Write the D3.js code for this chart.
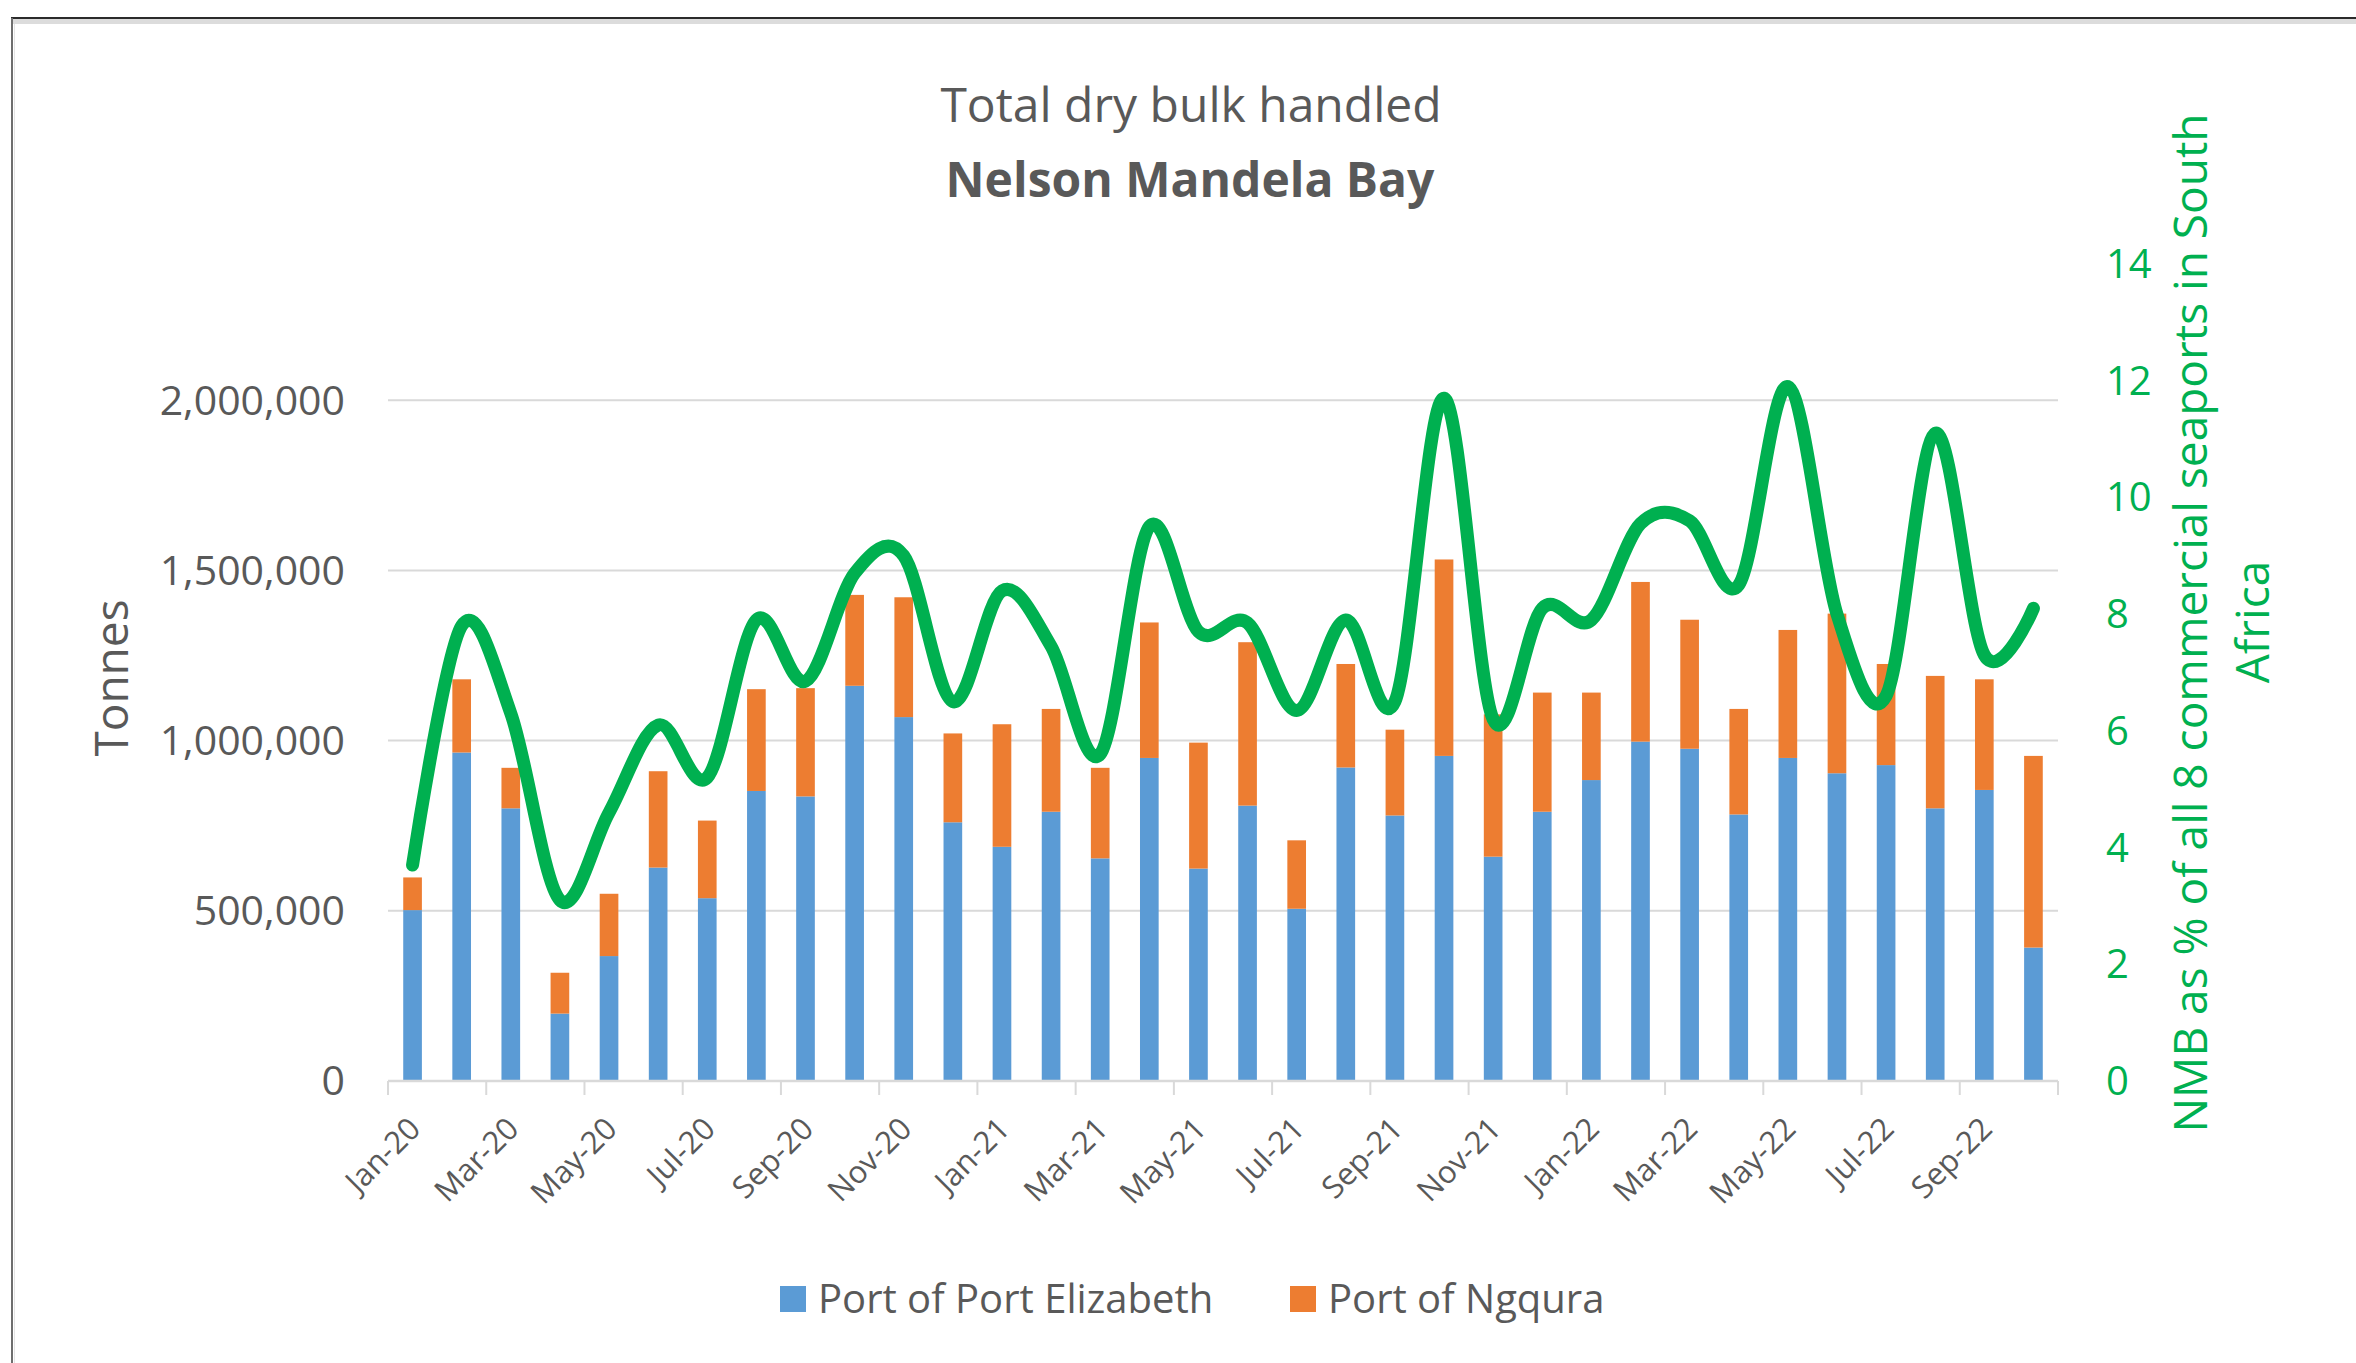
<!DOCTYPE html>
<html>
<head>
<meta charset="utf-8">
<script src="https://cdn.jsdelivr.net/npm/d3@7"></script>
<style>
  html, body { margin: 0; padding: 0; background: #ffffff; }
  svg { display: block; }
  text { font-family: "Open Sans", "Noto Sans", sans-serif; }
</style>
</head>
<body>
<svg id="chart" width="2356" height="1363"></svg>
<script>
// ---- Data ----
const months = ["Jan-20","Feb-20","Mar-20","Apr-20","May-20","Jun-20","Jul-20","Aug-20","Sep-20","Oct-20","Nov-20","Dec-20",
                "Jan-21","Feb-21","Mar-21","Apr-21","May-21","Jun-21","Jul-21","Aug-21","Sep-21","Oct-21","Nov-21","Dec-21",
                "Jan-22","Feb-22","Mar-22","Apr-22","May-22","Jun-22","Jul-22","Aug-22","Sep-22","Oct-22"];
const portElizabeth = [502000, 965000, 801000, 198000, 367000, 627000, 537000, 852000, 836000, 1161000, 1069000, 760000,
                       688000, 791000, 654000, 949000, 624000, 809000, 506000, 921000, 780000, 955000, 659000, 791000,
                       884000, 997000, 976000, 783000, 949000, 904000, 928000, 801000, 855000, 392000];
const ngqura = [96000, 215000, 119000, 120000, 183000, 283000, 228000, 299000, 318000, 267000, 352000, 261000,
                360000, 302000, 266000, 398000, 370000, 480000, 201000, 304000, 252000, 577000, 418000, 350000,
                257000, 469000, 379000, 310000, 376000, 469000, 297000, 389000, 325000, 563000];
const nmbShare = [3.7, 7.8, 6.3, 3.1, 4.6, 6.1, 5.2, 7.9, 6.85, 8.7, 9.0, 6.5,
                  8.4, 7.45, 5.6, 9.5, 7.7, 7.85, 6.35, 7.9, 6.5, 11.7, 6.2, 8.1,
                  7.9, 9.55, 9.6, 8.5, 11.9, 8.0, 6.6, 11.1, 7.3, 8.1];
const leftTicks = [0, 500000, 1000000, 1500000, 2000000];
const rightTicks = [0, 2, 4, 6, 8, 10, 12, 14];
const seriesNames = ["Port of Port Elizabeth", "Port of Ngqura"];
const titleLines = ["Total dry bulk handled", "Nelson Mandela Bay"];

// ---- Layout ----
const svg = d3.select("#chart");
const plot = { left: 388, right: 2058, top: 264, bottom: 1081 };
const colors = { pe: "#5B9BD5", ng: "#ED7D31", line: "#00B050", text: "#595959", grid: "#D9D9D9" };

// frame
svg.append("rect").attr("x", 0).attr("y", 0).attr("width", 2356).attr("height", 1363).attr("fill", "#fff");
svg.append("rect").attr("x", 12).attr("y", 19).attr("width", 2344).attr("height", 5).attr("fill", "#DCDCDC");
svg.append("line").attr("x1", 11).attr("x2", 2356).attr("y1", 18).attr("y2", 18).attr("stroke", "#2b2b2b").attr("stroke-width", 2);
svg.append("line").attr("x1", 12).attr("x2", 12).attr("y1", 18).attr("y2", 1363).attr("stroke", "#6e6e6e").attr("stroke-width", 2);
svg.append("line").attr("x1", 14.5).attr("x2", 14.5).attr("y1", 24).attr("y2", 1363).attr("stroke", "#e4e4e4").attr("stroke-width", 1);

// scales
const x = d3.scaleBand().domain(months).range([plot.left, plot.right]).paddingInner(0.62).paddingOuter(0.31);
const y = d3.scaleLinear().domain([0, 2400000]).range([plot.bottom, plot.top]);
const y2 = d3.scaleLinear().domain([0, 14]).range([plot.bottom, plot.top]);

// gridlines
svg.append("g").selectAll("line").data(leftTicks.filter(d => d > 0)).join("line")
  .attr("x1", plot.left).attr("x2", plot.right)
  .attr("y1", d => y(d)).attr("y2", d => y(d))
  .attr("stroke", colors.grid).attr("stroke-width", 2);

// stacked bars
const rows = months.map((m, i) => ({ month: m, pe: portElizabeth[i], ng: ngqura[i] }));
const stack = d3.stack().keys(["pe", "ng"])(rows);
svg.append("g").selectAll("g").data(stack).join("g")
  .attr("fill", d => colors[d.key])
  .selectAll("rect").data(d => d).join("rect")
  .attr("x", d => x(d.data.month))
  .attr("width", x.bandwidth())
  .attr("y", d => y(d[1]))
  .attr("height", d => y(d[0]) - y(d[1]));

// x axis line + ticks
svg.append("line").attr("x1", plot.left).attr("x2", plot.right).attr("y1", plot.bottom).attr("y2", plot.bottom)
  .attr("stroke", colors.grid).attr("stroke-width", 2.5);
const step = x.step();
const tickIdx = d3.range(0, months.length + 1, 2);
svg.append("g").selectAll("line").data(tickIdx).join("line")
  .attr("x1", i => plot.left + i * step).attr("x2", i => plot.left + i * step)
  .attr("y1", plot.bottom).attr("y2", plot.bottom + 14)
  .attr("stroke", colors.grid).attr("stroke-width", 2);

// x labels (every other month)
svg.append("g").selectAll("text").data(months.filter((m, i) => i % 2 === 0)).join("text")
  .attr("transform", d => `translate(${x(d) + x.bandwidth() / 2 + 2},${plot.bottom + 42}) rotate(-45)`)
  .attr("text-anchor", "end").attr("dy", "0.35em")
  .attr("font-size", 31).attr("fill", colors.text)
  .text(d => d);

// left axis labels
svg.append("g").selectAll("text").data(leftTicks).join("text")
  .attr("x", 345).attr("y", d => y(d)).attr("dy", "0.35em")
  .attr("text-anchor", "end").attr("font-size", 41).attr("fill", colors.text)
  .text(d => d3.format(",")(d));

// right axis labels
svg.append("g").selectAll("text").data(rightTicks).join("text")
  .attr("x", 2106).attr("y", d => y2(d)).attr("dy", "0.35em")
  .attr("text-anchor", "start").attr("font-size", 40).attr("fill", colors.line)
  .text(d => d);

// line
const line = d3.line()
  .x((d, i) => x(months[i]) + x.bandwidth() / 2)
  .y(d => y2(d))
  .curve(d3.curveCatmullRom.alpha(0));
svg.append("path").datum(nmbShare)
  .attr("d", line).attr("fill", "none")
  .attr("stroke", colors.line).attr("stroke-width", 13)
  .attr("stroke-linejoin", "round").attr("stroke-linecap", "round");

// title
svg.append("text").attr("x", 1191).attr("y", 122).attr("text-anchor", "middle")
  .attr("font-size", 48).attr("fill", colors.text).text(titleLines[0]);
svg.append("text").attr("x", 1190).attr("y", 197).attr("text-anchor", "middle")
  .attr("font-size", 48).attr("font-weight", "bold").attr("fill", colors.text).text(titleLines[1]);

// left axis title
svg.append("text").attr("transform", "translate(112,678) rotate(-90)")
  .attr("text-anchor", "middle").attr("dy", "0.35em")
  .attr("font-size", 46).attr("fill", colors.text).text("Tonnes");

// right axis title (two lines)
svg.append("text").attr("transform", "translate(2191,623) rotate(-90)")
  .attr("text-anchor", "middle").attr("dy", "0.35em")
  .attr("font-size", 46).attr("fill", colors.line).text("NMB as % of all 8 commercial seaports in South");
svg.append("text").attr("transform", "translate(2253,622) rotate(-90)")
  .attr("text-anchor", "middle").attr("dy", "0.35em")
  .attr("font-size", 46).attr("fill", colors.line).text("Africa");

// legend
const legend = [
  { name: seriesNames[0], color: colors.pe, x: 780 },
  { name: seriesNames[1], color: colors.ng, x: 1290 }
];
const lg = svg.append("g").selectAll("g").data(legend).join("g")
  .attr("transform", d => `translate(${d.x},1299)`);
lg.append("rect").attr("x", 0).attr("y", -13).attr("width", 26).attr("height", 26).attr("fill", d => d.color);
lg.append("text").attr("x", 38).attr("y", 0).attr("dy", "0.35em")
  .attr("font-size", 40).attr("fill", colors.text).text(d => d.name);
</script>
</body>
</html>
